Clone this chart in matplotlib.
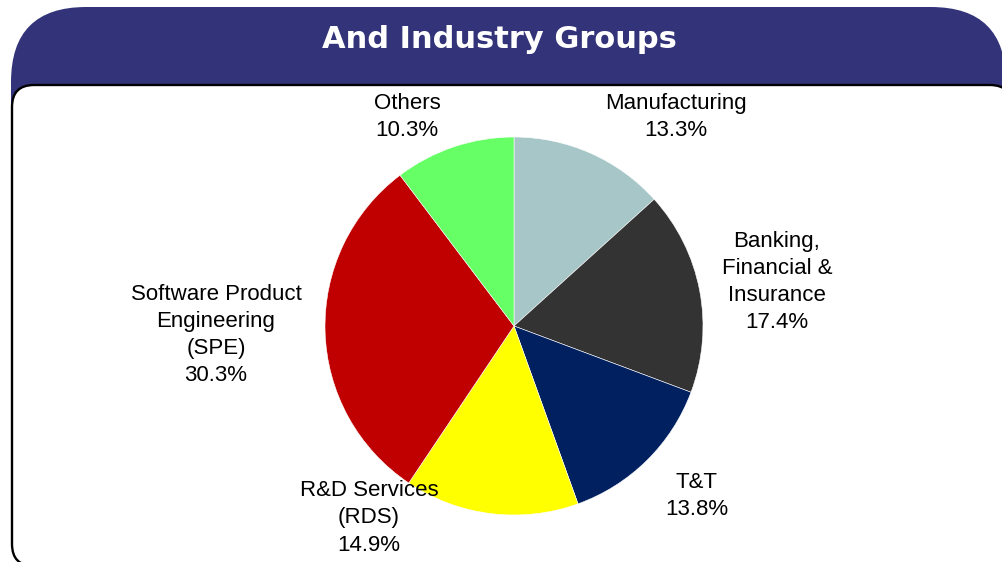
import matplotlib
matplotlib.use("Agg")
import matplotlib.pyplot as plt
from matplotlib.patches import FancyBboxPatch

# Revenue share by industry group (percent)
categories = ["Manufacturing", "Banking,\nFinancial &\nInsurance", "T&T",
              "R&D Services\n(RDS)", "Software Product\nEngineering\n(SPE)", "Others"]
shares = [13.3, 17.4, 13.8, 14.9, 30.3, 10.3]
colors = ["#A6C6C8", "#333333", "#002060", "#FFFF00", "#C00000", "#66FF66"]
title = "And Industry Groups"

# Canvas in pixel units (y measured from the top, converted below)
W, H = 1002, 562
def fy(y):
    return H - y

fig = plt.figure(figsize=(W / 100, H / 100), dpi=100)
ax = fig.add_axes([0, 0, 1, 1])

# Title banner and white content panel
banner = FancyBboxPatch((11, fy(300)), 995, 293,
                        boxstyle="round,pad=0,rounding_size=75",
                        facecolor="#333379", edgecolor="none", zorder=1)
ax.add_patch(banner)
panel = FancyBboxPatch((12, fy(566)), 1000, 481,
                       boxstyle="round,pad=0,rounding_size=22",
                       facecolor="white", edgecolor="black", linewidth=1.7, zorder=2)
ax.add_patch(panel)

ax.text(499, fy(39), title, color="white", fontsize=22, fontweight="bold",
        family="DejaVu Sans", ha="center", va="center", zorder=5)

# Pie
center = (514, fy(326))
wedges, _ = ax.pie(shares, colors=colors, startangle=90, counterclock=False,
                   center=center, radius=189,
                   wedgeprops=dict(edgecolor="white", linewidth=0.4))
for w in wedges:
    w.set_zorder(3)

# Label anchor points (pixels from top-left)
label_pos = [(676, 117), (777, 282), (697, 496), (369, 518), (216, 335), (407, 117)]
for name, share, (lx, ly) in zip(categories, shares, label_pos):
    ax.text(lx, fy(ly), f"{name}\n{share:.1f}%", ha="center", va="center",
            multialignment="center", fontsize=16, family="Liberation Sans",
            linespacing=1.38, color="black", zorder=6)

ax.set_xlim(0, W)
ax.set_ylim(0, H)
ax.set_aspect("auto")
ax.axis("off")

fig.savefig("out.png", dpi=100, facecolor="white")
